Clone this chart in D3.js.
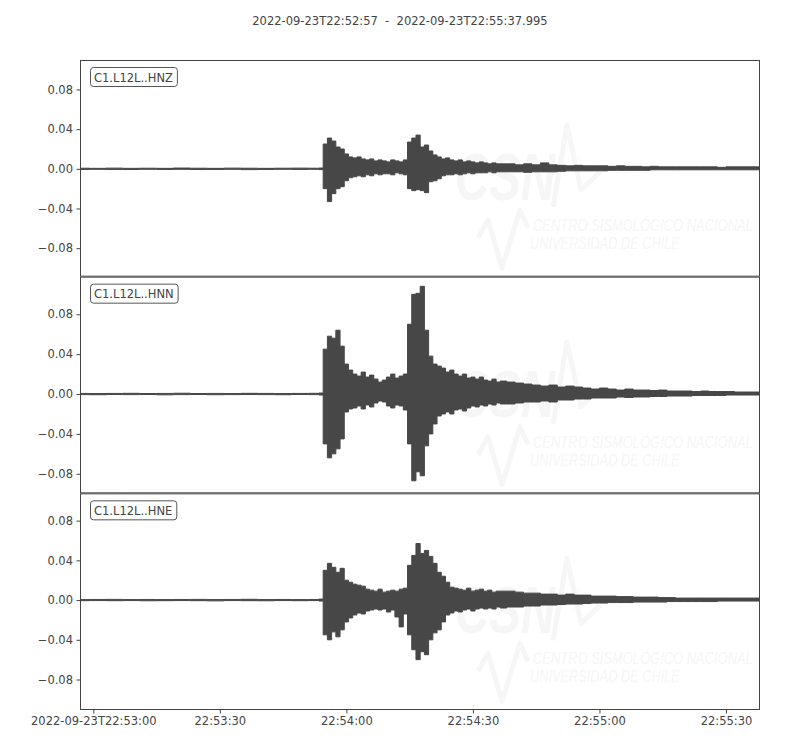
<!DOCTYPE html>
<html>
<head>
<meta charset="utf-8">
<script src="https://cdn.jsdelivr.net/npm/d3@7"></script>
<style>
  body { margin: 0; background: #ffffff; }
  svg { display: block; }
</style>
</head>
<body>
<svg id="chart" width="800" height="750"></svg>
<script>
// ---------------- data ----------------
const chartTitle = "2022-09-23T22:52:57  -  2022-09-23T22:55:37.995";
const traceStart = "2022-09-23T22:52:57.000Z";
const traceEnd = "2022-09-23T22:55:37.995Z";
const channelIds = ["C1.L12L..HNZ", "C1.L12L..HNN", "C1.L12L..HNE"];

// seconds after trace start at which the envelope was read
const sampleSeconds = [0,4,8,12,16,20,24,28,32,36,40,44,48,52,56,
  57,58,59,60,61,62,63,64,65,66,67,68,69,70,71,72,73,74,75,76,77,78,79,80,81,82,83,84,85,86,87,88,89,90,91,92,93,94,95,96,97,98,99,100,
  102,104,106,108,110,112,114,116,118,120,122,124,126,128,130,132,134,136,138,140,142,144,146,148,150,152,154,156,158,160,161];

// envelope (upper / lower) of each trace, in units of 1e-3
const hnzUpper = [0.6,0.5,0.7,0.5,0.6,0.5,0.8,0.6,0.5,0.7,0.6,0.5,0.6,0.7,0.6,
  0.8, 25,31,28,22,20,15,12,11,12,10, 9,10,8,9,8,7,9,8,7,9, 27,31,34,22,24,18,14,12,10,11, 9,8,9,7,8,7,6,7,6,5, 6,5,5,
  5,4,5,4,6,4,3.5,3,3.5,3, 3,3,2.5,3,2.5,2.5,2,2.5,2,2, 2,2,2,2,2,1.5,2,2,2,2, 2];
const hnzLower = [-0.6,-0.5,-0.6,-0.7,-0.5,-0.6,-0.5,-0.7,-0.6,-0.5,-0.8,-0.6,-0.5,-0.6,-0.5,
  -0.8, -20,-33,-25,-20,-18,-12,-9,-8,-7,-8, -6,-7,-5,-6,-5,-5,-6,-4,-5,-6, -20,-22,-21,-22,-24,-13,-12,-10,-7,-6, -6,-5,-6,-5,-4,-5,-4,-4,-4,-3, -4,-3,-3,
  -3,-3,-3.5,-3,-3,-3,-2.5,-2,-2,-2, -2,-2,-1.5,-1.5,-1.5,-1.5,-1.5,-1,-1,-1, -1,-1,-1,-1,-1,-1,-1,-1,-1,-1, -1];

const hnnUpper = [0.6,0.5,0.6,0.7,0.5,0.6,0.8,0.5,0.6,0.5,0.7,0.6,0.5,0.6,0.7,
  1, 45,58,56,64,48,30,24,20,18,22, 17,19,15,12,14,17,20,16,18,20, 70,100,101,108,64,38,30,28,26,22, 24,20,18,20,16,17,15,17,14,13, 15,12,13,
  12,11,10,9,8,9,7,8,7,6, 5,6,5,4,5,4,4,3.5,4,3, 3,3,2.5,3,2.5,2.5,2.5,2,2,2, 2];
const hnnLower = [-0.6,-0.7,-0.5,-0.6,-0.5,-0.8,-0.6,-0.5,-0.7,-0.6,-0.5,-0.6,-0.7,-0.5,-0.6,
  -1, -50,-64,-60,-55,-45,-18,-15,-14,-12,-15, -11,-13,-9,-7,-8,-12,-14,-11,-12,-16, -50,-87,-78,-82,-52,-40,-30,-22,-20,-18, -20,-16,-15,-17,-14,-12,-13,-11,-12,-10, -11,-9,-10,
  -10,-9,-8,-8,-7,-8,-6,-6,-5,-5, -4,-4,-4,-3,-3.5,-3,-3,-2.5,-2.5,-2, -2,-2,-1.5,-1.5,-1.5,-1.5,-1,-1,-1,-1, -1];

const hneUpper = [0.5,0.6,0.7,0.5,0.6,0.5,0.6,0.7,0.5,0.6,0.8,0.5,0.6,0.5,0.6,
  1, 30,37,33,28,32,20,18,16,15,14, 11,10,9,11,8,9,10,9,11,12, 35,45,57,47,50,44,37,28,24,18, 13,12,11,10,12,9,10,11,9,10, 8,9,9,
  9,8,7,7,6,6,5,6,5,5, 4,4,4,3.5,3.5,3,3,3,2.5,2.5, 2,2,2,2,2,2,2,2,2,2, 2];
const hneLower = [-0.6,-0.5,-0.6,-0.5,-0.7,-0.6,-0.5,-0.6,-0.8,-0.5,-0.6,-0.7,-0.5,-0.6,-0.5,
  -1, -35,-40,-32,-37,-30,-22,-18,-15,-13,-14, -11,-10,-9,-10,-9,-12,-10,-17,-27,-14, -35,-50,-60,-52,-55,-40,-33,-30,-22,-15, -13,-11,-12,-10,-9,-11,-9,-8,-9,-8, -9,-7,-8,
  -7,-7,-6,-6,-5,-5,-4.5,-4,-4,-3.5, -3,-3,-2.5,-2.5,-2.5,-2,-2,-2,-2,-1.5, -1.5,-1.5,-1.5,-1.5,-1.5,-1,-1,-1,-1,-1, -1];

const yTickValues = [-0.08, -0.04, 0, 0.04, 0.08];
const yLimits = [[-0.1087, 0.1097], [-0.0996, 0.1177], [-0.1107, 0.1075]];

// ---------------- drawing ----------------
const svg = d3.select("#chart");
const ink = "#444444";
const wave = "#474747";
const font = "'DejaVu Sans', sans-serif";
const plotLeft = 80, plotRight = 760, plotTop = 60, plotBottom = 710;
const panelH = (plotBottom - plotTop) / 3;

const t0 = new Date(traceStart);
const t1 = new Date(traceEnd);
const x = d3.scaleUtc().domain([t0, t1]).range([80.65, 759.7]);

svg.append("text")
  .attr("x", 400).attr("y", 25)
  .attr("text-anchor", "middle")
  .attr("xml:space", "preserve")
  .style("white-space", "pre")
  .style("font-family", font).style("font-size", "11.5px")
  .attr("fill", ink)
  .text(chartTitle);

const defs = svg.append("defs");
const traces = [
  { upper: hnzUpper, lower: hnzLower },
  { upper: hnnUpper, lower: hnnLower },
  { upper: hneUpper, lower: hneLower }
];

const markColor = "#f6f6f6";
function fittedText(g, str, x0, base, width, size, weight) {
  const holder = g.append("g");
  const t = holder.append("text")
    .attr("x", 0).attr("y", 0)
    .style("font-family", "'Liberation Sans', sans-serif")
    .style("font-size", size + "px")
    .style("font-style", "italic")
    .style("font-weight", weight)
    .attr("fill", markColor).text(str);
  const natural = t.node().getComputedTextLength();
  holder.attr("transform", `translate(${x0},${base}) scale(${width / natural},1)`);
}
function watermark(g, y0) {
  g.append("polyline")
    .attr("points", [[553, y0 + 147], [567, y0 + 65], [581, y0 + 130], [600, y0 + 112]].map(p => p.join(",")).join(" "))
    .attr("fill", "none").attr("stroke", markColor).attr("stroke-width", 5).attr("stroke-linejoin", "round");
  g.append("polyline")
    .attr("points", [[478, y0 + 178], [488, y0 + 160], [502, y0 + 208], [520, y0 + 150], [528, y0 + 168]].map(p => p.join(",")).join(" "))
    .attr("fill", "none").attr("stroke", markColor).attr("stroke-width", 5).attr("stroke-linejoin", "round");
  fittedText(g, "CSN", 455, y0 + 140, 100, 66, "bold");
  fittedText(g, "CENTRO SISMOLÓGICO NACIONAL", 533, y0 + 171, 220, 17, "normal");
  fittedText(g, "UNIVERSIDAD DE CHILE", 530, y0 + 189, 150, 17, "normal");
}

traces.forEach((tr, i) => {
  const y0 = plotTop + i * panelH;
  const y = d3.scaleLinear().domain(yLimits[i]).range([y0 + panelH, y0]);
  const clipId = "clip" + i;
  defs.append("clipPath").attr("id", clipId)
    .append("rect").attr("x", plotLeft).attr("y", y0).attr("width", plotRight - plotLeft).attr("height", panelH);

  const g = svg.append("g").attr("clip-path", `url(#${clipId})`);
  watermark(g, y0);

  const pts = sampleSeconds.map((s, k) => ({
    t: new Date(t0.getTime() + s * 1000),
    hi: tr.upper[k] / 1000,
    lo: tr.lower[k] / 1000
  }));
  const area = d3.area()
    .curve(d3.curveStep)
    .x(d => x(d.t))
    .y0(d => y(d.lo))
    .y1(d => y(d.hi));
  g.append("path")
    .attr("d", area(pts))
    .attr("fill", wave)
    .attr("stroke", wave)
    .attr("stroke-width", 1)
    .attr("stroke-linejoin", "miter");

  // y axis
  const ax = svg.append("g")
    .attr("transform", `translate(${plotLeft},0)`)
    .call(d3.axisLeft(y).tickValues(yTickValues).tickFormat(d3.format(".2f")).tickSize(3.5).tickPadding(3.5));
  ax.select(".domain").remove();
  ax.selectAll(".tick line").attr("stroke", ink);
  ax.selectAll(".tick text").attr("fill", ink).style("font-family", font).style("font-size", "11.5px");

  // frame
  svg.append("rect")
    .attr("x", plotLeft + 0.5).attr("y", y0 + 0.5)
    .attr("width", plotRight - plotLeft - 1).attr("height", panelH - 1)
    .attr("fill", "none").attr("stroke", ink).attr("stroke-width", 1);

  // channel label box
  const lab = svg.append("g");
  const txt = lab.append("text")
    .attr("x", 94).attr("y", y0 + 21.5)
    .style("font-family", font).style("font-size", "11.5px")
    .attr("fill", ink).text(channelIds[i]);
  const len = txt.node().getComputedTextLength();
  lab.insert("rect", "text")
    .attr("x", 90.5).attr("y", y0 + 7.5)
    .attr("width", len + 8).attr("height", 19)
    .attr("rx", 3).attr("ry", 3)
    .attr("fill", "#ffffff").attr("stroke", "#555555").attr("stroke-width", 1);
});

// x axis (bottom only)
const isoFmt = d3.utcFormat("%Y-%m-%dT%H:%M:%S");
const hmsFmt = d3.utcFormat("%H:%M:%S");
const xa = svg.append("g")
  .attr("transform", `translate(0,${plotBottom})`)
  .call(d3.axisBottom(x).ticks(d3.utcSecond.every(30))
    .tickFormat((d, i) => i === 0 ? isoFmt(d) : hmsFmt(d))
    .tickSize(3.5).tickPadding(3.5));
xa.select(".domain").remove();
xa.selectAll(".tick line").attr("stroke", ink);
xa.selectAll(".tick text").attr("fill", ink).style("font-family", font).style("font-size", "11.5px");
</script>
</body>
</html>
